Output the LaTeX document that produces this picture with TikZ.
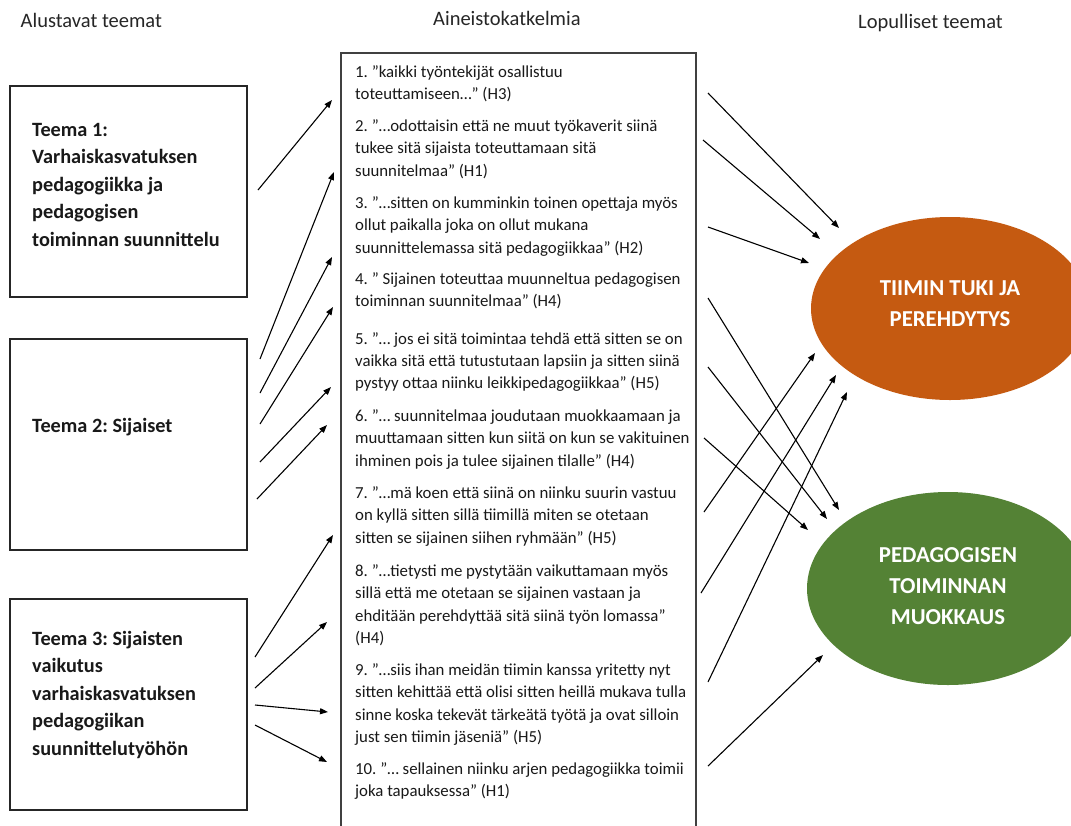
\documentclass[tikz,border=0pt]{standalone}
\usepackage{fontspec}
\setmainfont{Carlito}
\usetikzlibrary{arrows.meta,shapes.geometric}
\definecolor{orangeT}{HTML}{C55A11}
\definecolor{greenT}{HTML}{548235}
\frenchspacing
\tikzset{
  themebox/.style={draw=black!85, line width=1.4pt, minimum width=237pt, minimum height=211pt, inner sep=0pt},
  quotebox/.style={draw=black!75, line width=1.5pt, minimum width=355pt, minimum height=790pt, inner sep=0pt},
  header/.style={anchor=base west, inner sep=0pt, font=\fontsize{20.5}{24}\selectfont, text=black!85},
  themetext/.style={anchor=base west, inner sep=0pt, font=\fontsize{20.3}{27.5}\selectfont\bfseries, text=black!90},
  qitem/.style={anchor=base west, inner sep=0pt, font=\fontsize{16.8}{22.4}\selectfont, text=black!90},
  finaltheme/.style={ellipse, inner sep=0pt},
  finaltext/.style={anchor=base, inner sep=0pt, font=\fontsize{22.8}{31}\selectfont\bfseries, text=white},
  conn/.style={-{Triangle[length=8pt,width=6pt]}, line width=1.1pt, black}
}
\begin{document}
\begin{tikzpicture}[x=1pt,y=-1pt]
\useasboundingbox (0,0) rectangle (1071,825);
\clip (0,0) rectangle (1071,825);
\fill[white] (0,0) rectangle (1071,825);

% headers
\node[header] (h1) at (20.5,27) {Alustavat teemat};
\node[header] (h2) at (433,25.5) {Aineistokatkelmia};
\node[header] (h3) at (858,28) {Lopulliset teemat};

% theme boxes
\node[themebox] (t1) at (128.5,191.5) {};
\node[themebox] (t2) at (128.5,444.5) {};
\node[themebox] (t3) at (128.5,704.5) {};
\node[themetext] (t1t) at (32,136) {\begin{tabular}[t]{@{}l@{}}Teema 1:\\Varhaiskasvatuksen\\pedagogiikka ja\\pedagogisen\\toiminnan suunnittelu\end{tabular}};
\node[themetext] (t2t) at (32,432) {Teema 2: Sijaiset};
\node[themetext] (t3t) at (32,645) {\begin{tabular}[t]{@{}l@{}}Teema 3: Sijaisten\\vaikutus\\varhaiskasvatuksen\\pedagogiikan\\suunnittelutyöhön\end{tabular}};

% quote box
\node[quotebox] (qb) at (518.5,448) {};
\node[qitem] (q1) at (355,77.5) {\begin{tabular}[t]{@{}l@{}}1. ”kaikki työntekijät osallistuu\\toteuttamiseen…” (H3)\end{tabular}};
\node[qitem] (q2) at (355,131.5) {\begin{tabular}[t]{@{}l@{}}2. ”…odottaisin että ne muut työkaverit siinä\\tukee sitä sijaista toteuttamaan sitä\\suunnitelmaa” (H1)\end{tabular}};
\node[qitem] (q3) at (355,208.5) {\begin{tabular}[t]{@{}l@{}}3. ”…sitten on kumminkin toinen opettaja myös\\ollut paikalla joka on ollut mukana\\suunnittelemassa sitä pedagogiikkaa” (H2)\end{tabular}};
\node[qitem] (q4) at (355,284.5) {\begin{tabular}[t]{@{}l@{}}4. ” Sijainen toteuttaa muunneltua pedagogisen\\toiminnan suunnitelmaa” (H4)\end{tabular}};
\node[qitem] (q5) at (355,344) {\begin{tabular}[t]{@{}l@{}}5. ”… jos ei sitä toimintaa tehdä että sitten se on\\vaikka sitä että tutustutaan lapsiin ja sitten siinä\\pystyy ottaa niinku leikkipedagogiikkaa” (H5)\end{tabular}};
\node[qitem] (q6) at (355,421.5) {\begin{tabular}[t]{@{}l@{}}6. ”… suunnitelmaa joudutaan muokkaamaan ja\\muuttamaan sitten kun siitä on kun se vakituinen\\ihminen pois ja tulee sijainen tilalle” (H4)\end{tabular}};
\node[qitem] (q7) at (355,498.5) {\begin{tabular}[t]{@{}l@{}}7. ”…mä koen että siinä on niinku suurin vastuu\\on kyllä sitten sillä tiimillä miten se otetaan\\sitten se sijainen siihen ryhmään” (H5)\end{tabular}};
\node[qitem] (q8) at (355,576.5) {\begin{tabular}[t]{@{}l@{}}8. ”…tietysti me pystytään vaikuttamaan myös\\sillä että me otetaan se sijainen vastaan ja\\ehditään perehdyttää sitä siinä työn lomassa”\\(H4)\end{tabular}};
\node[qitem] (q9) at (355,675.5) {\begin{tabular}[t]{@{}l@{}}9. ”…siis ihan meidän tiimin kanssa yritetty nyt\\sitten kehittää että olisi sitten heillä mukava tulla\\sinne koska tekevät tärkeätä työtä ja ovat silloin\\just sen tiimin jäseniä” (H5)\end{tabular}};
\node[qitem] (q10) at (355,774.5) {\begin{tabular}[t]{@{}l@{}}10. ”… sellainen niinku arjen pedagogiikka toimii\\joka tapauksessa” (H1)\end{tabular}};

% final themes
\node[finaltheme, fill=orangeT, minimum width=278pt, minimum height=183pt] (f1) at (950,308.5) {};
\node[finaltheme, fill=greenT, minimum width=282pt, minimum height=193pt] (f2) at (948,588.5) {};
\node[finaltext] (f1t) at (950,295) {\begin{tabular}[t]{@{}c@{}}TIIMIN TUKI JA\\PEREHDYTYS\end{tabular}};
\node[finaltext] (f2t) at (948,562) {\begin{tabular}[t]{@{}c@{}}PEDAGOGISEN\\TOIMINNAN\\MUOKKAUS\end{tabular}};

% connector end points
\coordinate (a1s) at (258,190); \coordinate (a1e) at (332,100);
\coordinate (a2s) at (260,359); \coordinate (a2e) at (334,172);
\coordinate (a3s) at (260,393); \coordinate (a3e) at (332,257);
\coordinate (a4s) at (260,424); \coordinate (a4e) at (333,307);
\coordinate (a5s) at (260,462); \coordinate (a5e) at (331,387);
\coordinate (a6s) at (257,499); \coordinate (a6e) at (327,425);
\coordinate (b1s) at (255,657); \coordinate (b1e) at (333,535);
\coordinate (b2s) at (255,688); \coordinate (b2e) at (327,622);
\coordinate (b3s) at (255,705); \coordinate (b3e) at (328,712);
\coordinate (b4s) at (255,725); \coordinate (b4e) at (327,762);
\coordinate (c1s) at (708,93);  \coordinate (c1e) at (839,228);
\coordinate (c2s) at (703,140); \coordinate (c2e) at (820,239);
\coordinate (c3s) at (708,227); \coordinate (c3e) at (809,263);
\coordinate (c4s) at (708,298); \coordinate (c4e) at (839,510);
\coordinate (c5s) at (708,367); \coordinate (c5e) at (827,519);
\coordinate (c6s) at (704,438); \coordinate (c6e) at (808,530);
\coordinate (d1s) at (704,512); \coordinate (d1e) at (815,353);
\coordinate (d2s) at (701,593); \coordinate (d2e) at (836,375);
\coordinate (d3s) at (708,682); \coordinate (d3e) at (847,392);
\coordinate (d4s) at (708,766); \coordinate (d4e) at (823,655);

\foreach \n in {a1,a2,a3,a4,a5,a6,b1,b2,b3,b4,c1,c2,c3,c4,c5,c6,d1,d2,d3,d4}
  \draw[conn] (\n s) -- (\n e);
\end{tikzpicture}
\end{document}
